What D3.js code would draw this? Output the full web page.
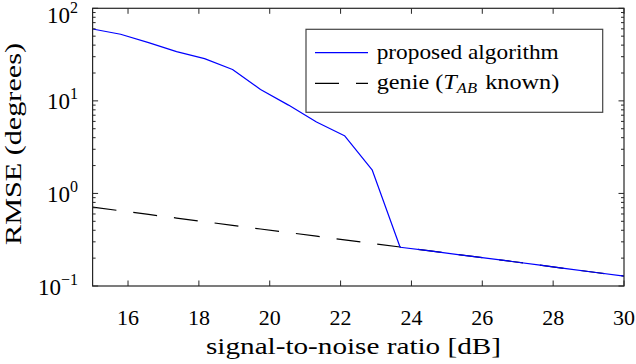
<!DOCTYPE html>
<html>
<head>
<meta charset="utf-8">
<script src="https://cdn.jsdelivr.net/npm/d3@7"></script>
<style>
  html, body { margin: 0; padding: 0; background: #fff; }
</style>
</head>
<body>
<div id="chart"></div>
<script>
// SNR sample points (dB)
const snr = [15, 15.79, 16.58, 17.37, 18.16, 18.95, 19.74, 20.53, 21.32, 22.11,
  22.89, 23.68, 24.47, 25.26, 26.05, 26.84, 27.63, 28.42, 29.21, 30];

// RMSE (degrees)
const proposed = [59.8, 52.4, 42.5, 34.0, 28.6, 21.8, 13.3, 9.0, 5.9, 4.2,
  1.8, 0.262, 0.241, 0.220, 0.201, 0.184, 0.168, 0.153, 0.140, 0.128];
const genie = [0.710, 0.649, 0.593, 0.542, 0.495, 0.452, 0.413, 0.378, 0.345, 0.315,
  0.288, 0.264, 0.241, 0.220, 0.201, 0.184, 0.168, 0.153, 0.140, 0.128];

const xTicks = [16, 18, 20, 22, 24, 26, 28, 30];
const yTicks = [0.1, 1, 10, 100];
const yTickExp = ["\u22121", "0", "1", "2"];

window.addEventListener("load", () => {
  const width = 636;
  const height = 364;
  const left = 92.6, right = 624, top = 8.3, bottom = 286;
  const axisColor = "#262626";
  const font = "'Liberation Serif', 'Times New Roman', serif";

  const svg = d3.select("#chart")
    .append("svg")
    .attr("width", width)
    .attr("height", height)
    .style("font-family", font);

  const x = d3.scaleLinear().domain([15, 30]).range([left, right]);
  const y = d3.scaleLog().domain([0.1, 100]).range([bottom, top]);

  const line = d3.line()
    .x((d, i) => x(snr[i]))
    .y(d => y(d));

  // genie (dashed) under the proposed curve
  svg.append("path")
    .attr("d", line(genie))
    .attr("fill", "none")
    .attr("stroke", "#000")
    .attr("stroke-width", 1.2)
    .attr("stroke-dasharray", "24,17");

  svg.append("path")
    .attr("d", line(proposed))
    .attr("fill", "none")
    .attr("stroke", "#0000ff")
    .attr("stroke-width", 1.2)
    .attr("stroke-linejoin", "round");

  // frame
  svg.append("rect")
    .attr("x", left)
    .attr("y", top)
    .attr("width", right - left)
    .attr("height", bottom - top)
    .attr("fill", "none")
    .attr("stroke", axisColor)
    .attr("stroke-width", 1.2);

  // x ticks (bottom + top, inward)
  const majorLen = 5.5, minorLen = 3;
  xTicks.forEach(t => {
    svg.append("line")
      .attr("x1", x(t)).attr("x2", x(t))
      .attr("y1", bottom).attr("y2", bottom - majorLen)
      .attr("stroke", axisColor);
    svg.append("line")
      .attr("x1", x(t)).attr("x2", x(t))
      .attr("y1", top).attr("y2", top + majorLen)
      .attr("stroke", axisColor);
    svg.append("text")
      .attr("x", x(t))
      .attr("y", 325)
      .attr("text-anchor", "middle")
      .attr("font-size", "22px")
      .attr("fill", "#000")
      .text(t);
  });

  // y ticks: majors + minors on both sides
  const minorTicks = [];
  [0.1, 1, 10].forEach(dec => {
    for (let m = 2; m <= 9; m++) minorTicks.push(dec * m);
  });
  minorTicks.forEach(t => {
    [[left, left + minorLen], [right, right - minorLen]].forEach(([a, b]) => {
      svg.append("line")
        .attr("x1", a).attr("x2", b)
        .attr("y1", y(t)).attr("y2", y(t))
        .attr("stroke", axisColor);
    });
  });
  yTicks.forEach((t, i) => {
    [[left, left + majorLen], [right, right - majorLen]].forEach(([a, b]) => {
      svg.append("line")
        .attr("x1", a).attr("x2", b)
        .attr("y1", y(t)).attr("y2", y(t))
        .attr("stroke", axisColor);
    });
    // top label is pushed down to stay inside the figure
    const base = Math.max(y(t) + 8.5, 23);
    const lbl = svg.append("text")
      .attr("x", 78)
      .attr("y", base)
      .attr("text-anchor", "end")
      .attr("font-size", "23px")
      .attr("fill", "#000");
    lbl.append("tspan").text("10");
    lbl.append("tspan")
      .attr("dy", -10)
      .attr("font-size", "16px")
      .text(yTickExp[i]);
  });

  // axis titles
  svg.append("text")
    .attr("x", 206)
    .attr("y", 354)
    .attr("font-size", "24px")
    .attr("textLength", 295)
    .attr("lengthAdjust", "spacingAndGlyphs")
    .attr("fill", "#000")
    .text("signal-to-noise ratio [dB]");

  svg.append("text")
    .attr("transform", `translate(21,245) rotate(-90)`)
    .attr("font-size", "24px")
    .attr("textLength", 202)
    .attr("lengthAdjust", "spacingAndGlyphs")
    .attr("fill", "#000")
    .text("RMSE (degrees)");

  // legend
  const lg = svg.append("g");
  lg.append("rect")
    .attr("x", 306)
    .attr("y", 29.3)
    .attr("width", 296.7)
    .attr("height", 83)
    .attr("fill", "#fff")
    .attr("stroke", "#444")
    .attr("stroke-width", 1.2);

  lg.append("line")
    .attr("x1", 315).attr("x2", 368)
    .attr("y1", 52.7).attr("y2", 52.7)
    .attr("stroke", "#0000ff")
    .attr("stroke-width", 1.2);
  lg.append("text")
    .attr("x", 376.7)
    .attr("y", 58.5)
    .attr("font-size", "22px")
    .attr("textLength", 182)
    .attr("lengthAdjust", "spacingAndGlyphs")
    .attr("fill", "#000")
    .text("proposed algorithm");

  lg.append("line")
    .attr("x1", 315).attr("x2", 368)
    .attr("y1", 83.3).attr("y2", 83.3)
    .attr("stroke", "#000")
    .attr("stroke-width", 1.2)
    .attr("stroke-dasharray", "24,17");
  const g2 = lg.append("text")
    .attr("x", 376.7)
    .attr("y", 89)
    .attr("font-size", "22px")
    .attr("fill", "#000");
  g2.append("tspan").text("genie (");
  g2.append("tspan").attr("font-style", "italic").text("T");
  g2.append("tspan")
    .attr("font-style", "italic")
    .attr("font-size", "15px")
    .attr("dy", 4)
    .text("AB");
  g2.append("tspan")
    .attr("dy", -4)
    .attr("dx", 2)
    .text(" known)");
  // stretch the whole entry to the width seen in the figure
  g2.attr("textLength", 182.6).attr("lengthAdjust", "spacingAndGlyphs");
});
</script>
</body>
</html>
